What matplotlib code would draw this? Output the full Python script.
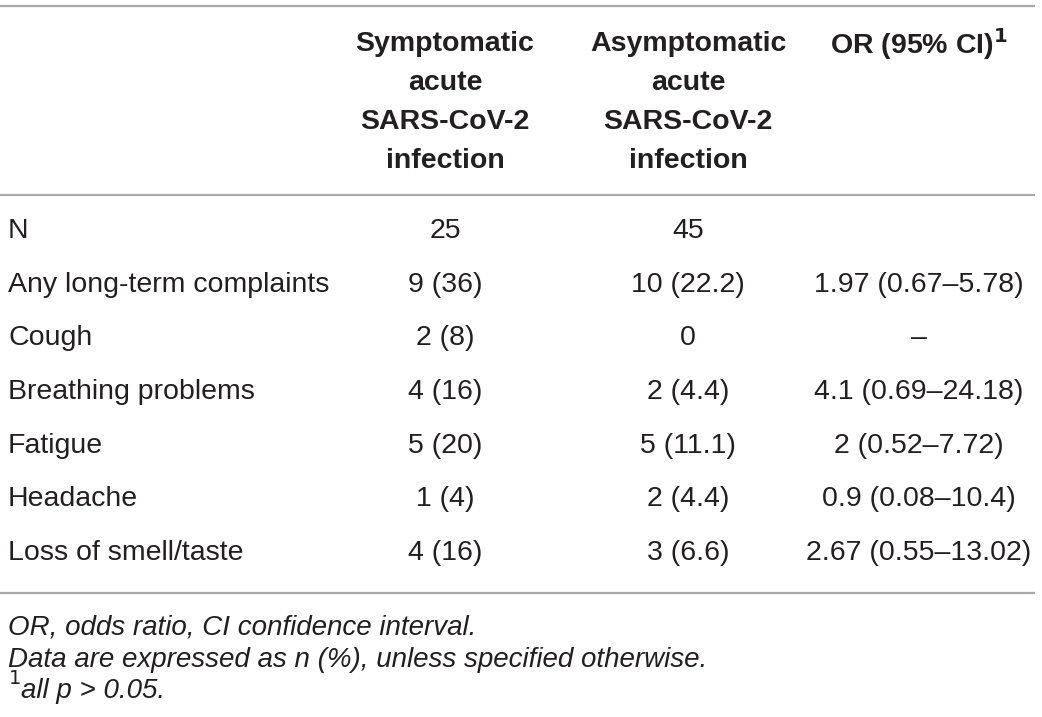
import matplotlib.pyplot as plt

plt.rcParams['font.family'] = ['Liberation Sans', 'DejaVu Sans']

# table content
col_headers = ["Symptomatic\nacute\nSARS-CoV-2\ninfection",
               "Asymptomatic\nacute\nSARS-CoV-2\ninfection",
               "OR (95% CI)$^{\\mathbf{1}}$"]
row_labels = ["N", "Any long-term complaints", "Cough", "Breathing problems",
              "Fatigue", "Headache", "Loss of smell/taste"]
symptomatic = ["25", "9 (36)", "2 (8)", "4 (16)", "5 (20)", "1 (4)", "4 (16)"]
asymptomatic = ["45", "10 (22.2)", "0", "2 (4.4)", "5 (11.1)", "2 (4.4)", "3 (6.6)"]
odds_ratio = ["", "1.97 (0.67\u20135.78)", "\u2013", "4.1 (0.69\u201324.18)",
              "2 (0.52\u20137.72)", "0.9 (0.08\u201310.4)", "2.67 (0.55\u201313.02)"]
footnotes = ["OR, odds ratio, CI confidence interval.",
             "Data are expressed as n (%), unless specified otherwise."]

txt = "#231f20"
rule = "#a7a9ac"
fs = 20.5
fs_note = 20

fig = plt.figure(figsize=(10.42, 7.17), dpi=100)
ax = fig.add_axes([0, 0, 1, 1])
ax.set_xlim(0, 1042)
ax.set_ylim(717, 0)
ax.axis("off")

col_x = [445, 688, 919]

# rules
for y in (6, 195, 593):
    ax.plot([0, 1035], [y, y], color=rule, lw=1.6, solid_capstyle="butt")

# headers
for x, h in zip(col_x[:2], col_headers[:2]):
    for k, line in enumerate(h.split("\n")):
        ax.text(x, 44 + k * 39, line, ha="center", va="center",
                fontsize=fs, fontweight="bold", color=txt)
ax.text(col_x[2], 44, col_headers[2], ha="center", va="center",
        fontsize=fs, fontweight="bold", color=txt)

# body
for i, lab in enumerate(row_labels):
    y = 231 + i * 53.7
    ax.text(8, y, lab, ha="left", va="center", fontsize=fs, color=txt)
    ax.text(col_x[0], y, symptomatic[i], ha="center", va="center", fontsize=fs, color=txt)
    ax.text(col_x[1], y, asymptomatic[i], ha="center", va="center", fontsize=fs, color=txt)
    ax.text(col_x[2], y, odds_ratio[i], ha="center", va="center", fontsize=fs, color=txt)

# footnotes
for k, f in enumerate(footnotes):
    ax.text(8, 627 + k * 33, f, ha="left", va="center", fontsize=fs_note,
            style="italic", color=txt)
ax.text(8, 687, "$^{1}$", ha="left", va="center", fontsize=fs_note, color=txt)
ax.text(21, 691, "all p > 0.05.", ha="left", va="center", fontsize=fs_note,
        style="italic", color=txt)

fig.savefig("out.png", dpi=100, facecolor="white")
